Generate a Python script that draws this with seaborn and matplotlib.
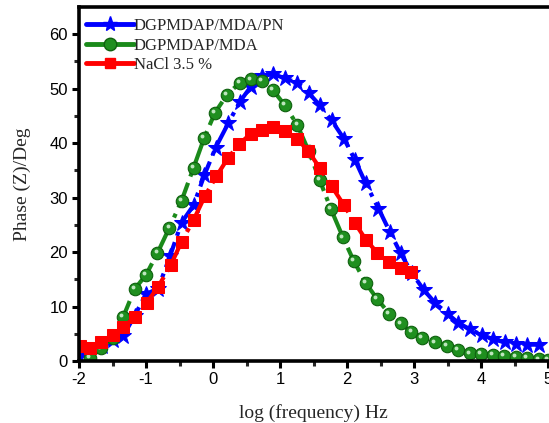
import pandas as pd
import matplotlib.pyplot as plt
import matplotlib.transforms as mtransforms
from matplotlib.lines import Line2D
import seaborn as sns

# log(f) / phase values
x_pn = [-2.00, -1.83, -1.66, -1.50, -1.34, -1.17, -1.00, -0.82, -0.64, -0.47,
        -0.29, -0.13, 0.04, 0.23, 0.40, 0.56, 0.73, 0.90, 1.07, 1.26,
        1.43, 1.59, 1.77, 1.96, 2.12, 2.28, 2.47, 2.64, 2.80, 2.97,
        3.15, 3.32, 3.50, 3.66, 3.84, 4.01, 4.18, 4.36, 4.52, 4.69, 4.87]
y_pn = [0.8, 1.8, 2.8, 3.8, 4.6, 8.3, 12.3, 13.3, 19.3, 25.4,
        28.6, 34.1, 39.2, 43.7, 47.6, 50.3, 52.3, 52.7, 51.9, 51.1,
        49.2, 47.0, 44.2, 40.7, 36.9, 32.6, 28.0, 23.7, 19.8, 16.1,
        13.0, 10.6, 8.7, 7.0, 5.8, 4.8, 4.0, 3.4, 3.1, 3.0, 3.0]

x_mda = [-1.84, -1.67, -1.50, -1.34, -1.17, -1.00, -0.83, -0.65, -0.47, -0.29,
         -0.13, 0.03, 0.21, 0.40, 0.56, 0.73, 0.89, 1.07, 1.26, 1.43,
         1.59, 1.76, 1.94, 2.10, 2.28, 2.45, 2.63, 2.80, 2.96, 3.12,
         3.31, 3.49, 3.66, 3.83, 4.00, 4.18, 4.34, 4.52, 4.69, 4.87, 5.00]
y_mda = [0.6, 2.3, 4.3, 8.1, 13.2, 15.8, 19.8, 24.5, 29.4, 35.5,
         41.0, 45.6, 48.9, 51.1, 51.7, 51.4, 49.8, 47.0, 43.3, 38.5,
         33.3, 27.9, 22.7, 18.4, 14.3, 11.4, 8.7, 6.9, 5.3, 4.3,
         3.4, 2.75, 2.1, 1.4, 1.3, 1.1, 0.9, 0.8, 0.5, 0.3, 0.2]

x_nacl = [-1.99, -1.84, -1.67, -1.50, -1.34, -1.16, -0.99, -0.82, -0.63, -0.47,
          -0.29, -0.12, 0.05, 0.22, 0.39, 0.56, 0.73, 0.90, 1.08, 1.26,
          1.42, 1.59, 1.77, 1.95, 2.12, 2.28, 2.45, 2.63, 2.80, 2.96]
y_nacl = [2.75, 2.3, 3.5, 4.8, 6.3, 8.0, 10.7, 13.6, 17.6, 21.9,
          25.9, 30.3, 33.9, 37.2, 39.8, 41.7, 42.5, 43.0, 42.3, 40.7,
          38.6, 35.5, 32.1, 28.7, 25.3, 22.3, 19.9, 18.2, 17.0, 16.3]

labels = ["DGPMDAP/MDA/PN", "DGPMDAP/MDA", "NaCl 3.5 %"]
colors = ["#0000ff", "#1a8a1a", "#ff0000"]

df_pn = pd.DataFrame({"logf": x_pn, "phase": y_pn})
df_mda = pd.DataFrame({"logf": x_mda, "phase": y_mda})
df_nacl = pd.DataFrame({"logf": x_nacl, "phase": y_nacl})

sns.set_theme(style="ticks")
plt.rcParams["font.family"] = ["Liberation Sans", "DejaVu Sans"]
plt.rcParams["axes.unicode_minus"] = False

fig = plt.figure(figsize=(5.49, 4.23), dpi=100)
ax = fig.add_axes([79 / 549, 62 / 423, 469 / 549, 354 / 423])

sns.lineplot(data=df_pn, x="logf", y="phase", ax=ax, color=colors[0],
             linestyle="-.", linewidth=3, marker="*", markersize=12,
             markeredgecolor=colors[0], estimator=None, sort=False)
sns.lineplot(data=df_mda, x="logf", y="phase", ax=ax, color=colors[1],
             linestyle="-.", linewidth=3, marker="o", markersize=9,
             markerfacecolor="#1f8f1f", markeredgecolor="#0e600e",
             markeredgewidth=0.8, estimator=None, sort=False)
# little highlight on the green balls
shift = mtransforms.ScaledTranslation(-1.3 / 72, 1.3 / 72, fig.dpi_scale_trans)
ax.plot(x_mda, y_mda, linestyle="none", marker="o", markersize=2.8,
        color="#bfe6bf", markeredgewidth=0, transform=ax.transData + shift)
sns.lineplot(data=df_nacl, x="logf", y="phase", ax=ax, color=colors[2],
             linestyle="-.", linewidth=3, marker="s", markersize=8.5,
             markeredgecolor=colors[2], estimator=None, sort=False)

ax.set_xlim(-2, 5)
ax.set_ylim(0, 65)
ax.set_xticks([-2, -1, 0, 1, 2, 3, 4, 5])
ax.set_yticks([0, 10, 20, 30, 40, 50, 60])
ax.set_xticks([-1.5, -0.5, 0.5, 1.5, 2.5, 3.5, 4.5], minor=True)
ax.set_yticks([5, 15, 25, 35, 45, 55], minor=True)
ax.tick_params(which="major", length=5, width=2.2, direction="out",
               labelsize=12, pad=3, colors="black")
ax.tick_params(which="minor", length=3.5, width=2.2, direction="out")

for side in ["left", "bottom", "top"]:
    ax.spines[side].set_linewidth(2.6)
    ax.spines[side].set_color("black")
ax.spines["right"].set_visible(False)

ax.set_xlabel("log (frequency) Hz", family=["Liberation Serif", "DejaVu Serif"],
              fontsize=14, labelpad=12)
ax.set_ylabel("Phase (Z)/Deg", family=["Liberation Serif", "DejaVu Serif"],
              fontsize=14, labelpad=13)

handles = [
    Line2D([], [], color=colors[0], linewidth=3.5, marker="*", markersize=11),
    Line2D([], [], color=colors[1], linewidth=3.5, marker="o", markersize=9,
           markerfacecolor="#1f8f1f", markeredgecolor="#0e600e"),
    Line2D([], [], color=colors[2], linewidth=3.5, marker="s", markersize=7),
]
ax.legend(handles, labels, loc="upper left", bbox_to_anchor=(0.0, 0.988),
          frameon=False, handlelength=2.9, handletextpad=0.0,
          labelspacing=0.22, borderaxespad=0.3, borderpad=0.1,
          prop={"family": ["Liberation Serif", "DejaVu Serif"], "size": 12})

fig.savefig("out.png", dpi=100)
plt.close(fig)
